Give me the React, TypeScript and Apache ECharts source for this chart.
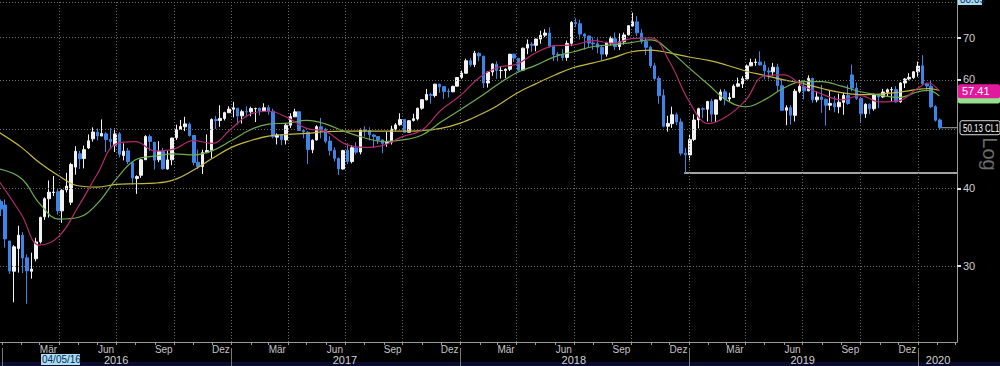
import React, { useEffect, useRef } from "react";
import * as echarts from "echarts";

// ---------- data ----------
// Weekly bars [open, close, low, high]; each list starts on the given Monday
const weekStart2016 = "2015-12-28";
const bars2016 = [
  [38.1, 37.04, 36.1, 38.4], [37.6, 33.16, 32.1, 38.4], [32.9, 29.42, 29.1, 32.9], [29.4, 32.19, 26.19, 32.4],
  [32.0, 33.62, 29.25, 34.82], [33.6, 30.89, 29.2, 34.0], [30.9, 29.44, 26.05, 31.3], [29.4, 29.64, 28.6, 31.5],
  [30.8, 32.78, 30.5, 33.3], [32.8, 35.92, 32.6, 36.0], [36.0, 38.5, 35.6, 38.7], [38.5, 39.44, 35.9, 41.2],
  [39.4, 39.46, 38.9, 41.9], [39.5, 36.79, 36.3, 39.9], [36.8, 39.72, 35.2, 39.9], [39.8, 40.36, 39.4, 42.4],
  [38.0, 43.73, 37.6, 44.0], [43.3, 45.92, 42.1, 46.8], [45.5, 44.66, 43.0, 46.0], [44.7, 46.21, 43.1, 46.9],
  [46.5, 47.75, 46.3, 48.9], [48.1, 49.33, 47.6, 50.2], [49.3, 48.62, 47.8, 50.0], [48.6, 49.07, 48.6, 51.7],
  [49.0, 47.98, 45.8, 49.3], [48.0, 47.64, 46.6, 50.1], [47.0, 48.99, 45.8, 50.0], [49.0, 45.41, 44.9, 49.3],
  [45.2, 45.95, 44.4, 47.3], [46.0, 44.19, 43.8, 46.5], [44.0, 41.6, 40.6, 44.2], [41.5, 41.8, 39.2, 42.0],
  [42.0, 44.49, 41.6, 44.6], [44.5, 48.52, 44.5, 48.75], [48.5, 47.64, 46.0, 48.9], [47.5, 44.44, 42.9, 47.5],
  [44.5, 45.88, 44.1, 47.7], [45.9, 43.03, 42.9, 46.5], [43.0, 44.48, 42.9, 46.0], [44.5, 48.24, 43.6, 48.3],
  [48.3, 49.81, 47.9, 50.7], [49.8, 50.35, 49.8, 51.6], [50.3, 50.85, 49.5, 52.2], [50.8, 48.7, 48.5, 51.1],
  [48.7, 44.07, 43.6, 48.8], [44.1, 43.41, 43.0, 46.2], [43.4, 45.69, 42.2, 46.2], [45.7, 46.06, 45.6, 48.9],
  [46.1, 51.68, 44.8, 51.9], [51.7, 51.5, 49.9, 52.4], [51.5, 51.9, 50.3, 54.5], [51.9, 53.02, 51.5, 53.2],
  [53.0, 53.72, 53.0, 54.3],
];
const weekStart2017 = "2017-01-02";
const bars2017 = [
  [53.7, 53.99, 52.1, 55.2], [53.9, 52.37, 50.7, 53.9], [52.4, 53.22, 50.9, 53.6], [53.2, 53.17, 52.1, 54.3],
  [53.2, 53.83, 52.3, 54.2], [53.8, 53.86, 51.2, 54.0], [53.9, 53.4, 52.5, 54.0], [53.4, 53.99, 53.2, 54.9],
  [54.0, 53.33, 52.6, 54.5], [53.3, 48.49, 48.2, 53.8], [48.4, 48.78, 47.1, 49.1], [48.8, 47.97, 47.0, 48.9],
  [47.9, 50.6, 47.1, 50.9], [50.6, 52.24, 50.1, 52.9], [52.2, 53.18, 52.2, 53.8], [53.2, 49.62, 49.6, 53.2],
  [49.6, 49.33, 48.2, 49.8], [49.3, 46.22, 43.8, 49.5], [46.2, 47.84, 45.6, 48.0], [47.9, 50.33, 47.8, 50.6],
  [50.3, 49.8, 48.2, 52.0], [49.8, 47.66, 47.3, 50.1], [47.7, 46.08, 45.2, 48.6], [46.1, 44.74, 44.2, 46.6],
  [44.7, 43.01, 42.05, 44.9], [43.0, 46.04, 42.9, 46.2], [46.1, 44.23, 43.8, 47.3], [44.2, 46.54, 43.9, 47.0],
  [46.5, 45.77, 45.4, 47.5], [45.8, 49.71, 45.4, 50.0], [49.7, 49.58, 48.5, 50.4], [49.6, 48.82, 47.8, 50.2],
  [48.8, 48.51, 46.5, 49.0], [48.5, 47.87, 47.2, 48.6], [47.9, 47.29, 45.6, 48.0], [47.3, 47.48, 46.7, 49.4],
  [47.5, 49.89, 47.1, 50.5], [49.9, 50.66, 49.6, 51.0], [50.7, 51.67, 50.5, 52.9], [51.7, 49.29, 49.2, 51.8],
  [49.3, 51.45, 49.3, 51.6], [51.5, 51.84, 51.3, 52.8], [51.8, 53.9, 51.5, 54.0], [53.9, 55.64, 53.6, 55.7],
  [55.6, 56.74, 55.5, 57.9], [56.7, 56.55, 54.8, 57.1], [56.5, 58.95, 56.1, 59.0], [58.9, 58.36, 57.1, 59.1],
  [58.4, 57.36, 55.8, 58.4], [57.4, 57.3, 56.1, 58.0], [57.3, 58.47, 57.2, 58.6], [58.5, 60.42, 58.5, 60.5],
];
const weekStart2018 = "2018-01-01";
const bars2018 = [
  [60.4, 61.44, 60.1, 62.0], [61.4, 64.3, 61.3, 64.8], [64.3, 63.37, 62.9, 64.9], [63.4, 66.14, 62.8, 66.7],
  [66.1, 65.45, 64.2, 66.4], [65.4, 59.2, 58.1, 65.5], [59.2, 61.68, 58.2, 61.8], [61.7, 63.55, 60.8, 63.7],
  [63.5, 62.04, 60.1, 64.2], [62.0, 62.04, 60.2, 63.0], [62.0, 62.34, 60.3, 62.5], [62.3, 65.88, 61.9, 66.0],
  [65.9, 64.94, 64.0, 66.0], [64.9, 62.06, 61.8, 64.9], [62.1, 67.39, 61.9, 67.5], [67.4, 68.38, 65.9, 69.6],
  [68.4, 68.1, 66.5, 68.9], [68.1, 69.72, 66.6, 69.8], [69.7, 70.7, 68.5, 71.9], [70.7, 71.28, 70.2, 72.3],
  [71.3, 67.88, 67.5, 72.8], [67.9, 65.81, 64.2, 67.9], [65.8, 65.74, 64.2, 66.4], [65.7, 65.06, 64.3, 67.1],
  [65.1, 68.58, 64.3, 69.3], [68.6, 74.15, 67.9, 74.5], [74.1, 73.8, 72.9, 75.3], [73.8, 71.01, 69.6, 74.9],
  [71.0, 70.46, 67.0, 71.2], [70.5, 68.69, 67.6, 70.6], [68.7, 68.49, 67.0, 70.2], [68.5, 67.63, 66.1, 69.9],
  [67.6, 65.91, 64.4, 67.9], [65.9, 68.72, 65.3, 69.0], [68.7, 69.8, 68.1, 70.4], [69.8, 67.75, 66.9, 71.4],
  [67.8, 68.99, 66.9, 71.2], [69.0, 70.78, 68.3, 71.4], [70.8, 73.25, 70.6, 73.4], [73.2, 74.34, 73.0, 76.9],
  [74.3, 71.34, 70.5, 75.9], [71.3, 69.12, 68.5, 72.3], [69.1, 67.59, 65.7, 70.0], [67.6, 63.14, 62.6, 68.0],
  [63.1, 60.19, 59.9, 63.8], [60.2, 56.46, 54.8, 60.7], [56.5, 50.42, 50.2, 57.8], [50.4, 50.93, 49.4, 52.4],
  [50.9, 52.61, 50.1, 54.2], [52.6, 51.2, 50.6, 53.0], [51.2, 45.59, 45.2, 51.9], [45.6, 45.33, 42.36, 46.5],
  [45.3, 47.96, 44.4, 48.8],
];
const weekStart2019 = "2019-01-07";
const bars2019 = [
  [48.0, 51.59, 47.7, 52.7], [51.6, 53.8, 50.0, 54.0], [53.8, 53.69, 51.9, 54.1], [53.7, 55.26, 51.3, 55.4],
  [55.3, 52.72, 51.2, 55.8], [52.7, 55.59, 51.2, 55.7], [55.6, 57.26, 55.4, 57.8], [57.3, 55.8, 54.5, 57.9],
  [55.8, 56.07, 55.3, 57.1], [56.1, 58.52, 56.0, 58.9], [58.5, 59.04, 58.3, 60.4], [59.0, 60.14, 58.1, 60.7],
  [60.1, 63.08, 60.0, 63.4], [63.1, 63.89, 63.0, 64.8], [63.9, 64.0, 63.1, 64.8], [64.0, 63.3, 63.2, 66.6],
  [63.3, 61.94, 60.0, 64.2], [61.9, 61.66, 60.0, 62.7], [61.7, 62.76, 60.8, 63.8], [62.8, 58.63, 57.3, 63.6],
  [58.6, 53.5, 53.4, 59.9], [53.5, 54.0, 50.6, 54.5], [54.0, 52.51, 50.7, 54.5], [52.5, 57.43, 51.3, 57.9],
  [57.4, 58.47, 57.0, 59.9], [58.5, 57.51, 55.7, 59.8], [57.5, 60.21, 57.4, 60.9], [60.2, 55.63, 55.0, 60.4],
  [55.6, 56.2, 55.1, 57.4], [56.2, 55.66, 53.0, 58.8], [55.7, 54.5, 50.5, 55.9], [54.5, 54.87, 53.5, 57.5],
  [54.9, 54.17, 53.1, 56.4], [54.2, 55.1, 52.9, 56.9], [55.1, 56.52, 52.6, 57.1], [56.5, 54.85, 54.6, 58.8],
  [61.0, 58.09, 57.4, 63.4], [58.1, 55.91, 55.6, 59.3], [55.9, 52.81, 50.99, 56.2], [52.8, 54.7, 52.0, 54.9],
  [54.7, 53.78, 52.7, 54.9], [53.8, 56.66, 53.4, 56.9], [56.7, 56.2, 53.9, 56.8], [56.2, 57.24, 56.0, 57.9],
  [57.2, 57.72, 56.4, 58.0], [57.7, 57.77, 55.2, 58.3], [57.8, 55.17, 55.0, 58.5], [55.2, 59.2, 55.0, 59.4],
  [59.2, 60.07, 58.1, 60.3], [60.1, 60.44, 59.8, 61.4], [60.4, 61.72, 60.1, 61.9], [61.7, 63.05, 60.6, 64.1],
];
const weekStart2020 = "2020-01-06";
const bars2020 = [
  [63.1, 59.04, 58.7, 65.65], [59.0, 58.54, 57.4, 59.3], [58.5, 54.19, 53.9, 59.7], [54.2, 51.56, 51.3, 54.5],
  [51.6, 50.13, 49.9, 51.9],
];

// Moving averages
const maDates = [
  "2015-12-28", "2016-02-01", "2016-03-01", "2016-04-01", "2016-05-01", "2016-06-01", "2016-07-01", "2016-08-01",
  "2016-09-01", "2016-10-01", "2016-11-01", "2016-12-01", "2017-01-01", "2017-02-01", "2017-03-01", "2017-04-01",
  "2017-05-01", "2017-06-01", "2017-07-01", "2017-08-01", "2017-09-01", "2017-10-01", "2017-11-01", "2017-12-01",
  "2018-01-01", "2018-02-01", "2018-03-01", "2018-04-01", "2018-05-01", "2018-06-01", "2018-07-01", "2018-08-01",
  "2018-09-01", "2018-10-01", "2018-11-01", "2018-12-01", "2019-01-01", "2019-02-01", "2019-03-01", "2019-04-01",
  "2019-05-01", "2019-06-01", "2019-07-01", "2019-08-01", "2019-09-01", "2019-10-01", "2019-11-01", "2019-12-01",
  "2020-01-01", "2020-01-18", "2020-02-04",
];
const ma50 = [
  41.0, 36.3, 32.4, 33.5, 37.3, 42.2, 47.2, 47.6, 46.0, 46.3, 47.8, 47.3, 50.0, 52.8, 53.3, 52.0,
  50.0, 49.4, 47.2, 46.6, 47.0, 48.5, 49.7, 53.5, 56.5, 60.5, 62.7, 63.5, 66.2, 68.0, 68.2, 69.3,
  68.6, 69.8, 70.0, 64.0, 55.3, 50.9, 52.2, 55.5, 60.8, 61.0, 58.6, 56.8, 55.6, 56.5, 55.2, 55.4,
  58.1, 59.2, 57.41,
];
const ma100 = [
  43.0, 41.5, 37.8, 35.7, 35.9, 37.8, 41.4, 44.5, 45.1, 45.5, 45.3, 46.0, 47.8, 49.8, 50.8, 51.0,
  51.5, 50.8, 49.4, 48.3, 47.6, 47.9, 48.8, 51.2, 53.6, 56.2, 58.8, 61.5, 63.2, 65.3, 66.5, 67.8,
  68.2, 68.8, 69.5, 66.7, 62.6, 58.8, 55.6, 54.2, 55.6, 58.1, 59.5, 59.5, 58.5, 57.3, 56.6, 56.1,
  57.3, 57.6, 56.4,
];
const ma200 = [
  49.2, 46.6, 44.0, 41.9, 40.4, 40.2, 40.6, 40.7, 40.8, 41.3, 42.8, 44.7, 46.6, 47.8, 48.6, 48.9,
  49.1, 49.4, 49.5, 49.5, 49.5, 49.5, 49.6, 50.0, 51.0, 52.6, 54.4, 57.0, 59.0, 61.0, 62.7, 63.8,
  65.0, 66.5, 66.9, 66.2, 65.2, 64.4, 63.3, 61.9, 60.9, 59.9, 59.1, 58.0, 57.1, 56.7, 56.8, 57.2,
  57.8, 58.0, 57.6,
];

// Levels and labels
const supportLow = 42.36;
const supportFrom = "2018-12-24";
const lastPrice = 50.13;
const lastDate = "2020-02-04";
const lastLabel = "50.13 CL1";
const ma50Label = "57.41";
const ma100Level = 56.3;
const priceTicks = [30, 40, 60, 70];
const priceGrid = [30, 40, 50, 60, 70, 80];
const monthLabelDates = [
  "2016-03-15", "2016-06-15", "2016-09-15", "2016-12-15", "2017-03-15", "2017-06-15", "2017-09-15", "2017-12-15",
  "2018-03-15", "2018-06-15", "2018-09-15", "2018-12-15", "2019-03-15", "2019-06-15", "2019-09-15", "2019-12-15",
];
const monthLabels = ["Mär", "Jun", "Sep", "Dez", "Mär", "Jun", "Sep", "Dez", "Mär", "Jun", "Sep", "Dez", "Mär", "Jun", "Sep", "Dez"];
const yearLabelDates = ["2016-07-01", "2017-07-01", "2018-07-01", "2019-07-01", "2020-02-02"];
const yearLabels = ["2016", "2017", "2018", "2019", "2020"];
const yearStarts = ["2016-01-01", "2017-01-01", "2018-01-01", "2019-01-01", "2020-01-01"];
const quarterStarts = [
  "2016-04-01", "2016-07-01", "2016-10-01", "2017-01-01", "2017-04-01", "2017-07-01", "2017-10-01",
  "2018-01-01", "2018-04-01", "2018-07-01", "2018-10-01", "2019-01-01", "2019-04-01", "2019-07-01",
  "2019-10-01", "2020-01-01",
];
const axisStart = "2015-12-28T19:00:00Z";
const axisEnd = "2020-03-03T05:00:00Z";
const priceMin = 22.6;
const priceMax = 80.6;
const topClipLabel = "80.09";
const cornerDate = "04/05/16";

// ---------- helpers ----------
const DAY = 86400000;
const ts = (s: string) => Date.parse(s.length <= 10 ? s + "T00:00:00Z" : s);
const ln = Math.log;
const FONT = "'Liberation Sans', Arial, sans-serif";

function weeks(start: string, bars: number[][]) {
  const t0 = ts(start);
  return bars.map((b, i) => [t0 + (i * 7 + 2) * DAY, ln(b[0]), ln(b[1]), ln(b[2]), ln(b[3])]);
}

export default function App() {
  const ref = useRef<HTMLDivElement>(null);
  useEffect(() => {
    document.body.style.margin = "0";
    document.body.style.background = "#000";
    const chart = echarts.init(ref.current!, null, { renderer: "svg" });

    const candles = [
      ...weeks(weekStart2016, bars2016),
      ...weeks(weekStart2017, bars2017),
      ...weeks(weekStart2018, bars2018),
      ...weeks(weekStart2019, bars2019),
      ...weeks(weekStart2020, bars2020),
    ];
    const xMin = ts(axisStart);
    const xMax = ts(axisEnd);
    const maSeries = (vals: number[]) => maDates.map((d, i) => [ts(d), ln(vals[i])]);
    const monthMap = new Map(monthLabelDates.map((d, i) => [ts(d), monthLabels[i]]));
    const yearMap = new Map(yearLabelDates.map((d, i) => [ts(d), yearLabels[i]]));
    const monthStarts: number[] = [];
    for (let y = 2016; y <= 2020; y++) {
      for (let m = 0; m < 12; m++) {
        const t = Date.UTC(y, m, 1);
        if (t > xMin && t < xMax) monthStarts.push(t);
      }
    }

    const gridLine = { color: "#6a6a6a", width: 1, type: [1, 2] as any };
    const baseX = { type: "value", min: xMin, max: xMax, position: "bottom", scale: true, splitLine: { show: false } };

    const option: any = {
      animation: false,
      backgroundColor: "#000",
      grid: { left: 0, top: 0, right: 43, bottom: 24, containLabel: false },
      xAxis: [
        {
          ...baseX,
          axisLine: { show: true, onZero: false, lineStyle: { color: "#9a9a9a", width: 1 } },
          axisTick: { show: true, customValues: monthStarts, length: 3, lineStyle: { color: "#9a9a9a" } },
          axisLabel: {
            show: true,
            customValues: monthLabelDates.map(ts),
            formatter: (v: number) => monthMap.get(v) ?? "",
            color: "#c4c4c4",
            fontSize: 10,
            fontFamily: FONT,
            margin: 2,
          },
        },
        {
          ...baseX,
          offset: 6,
          axisLine: { show: false, onZero: false },
          axisTick: { show: true, customValues: yearStarts.map(ts), length: 18, lineStyle: { color: "#777" } },
          axisLabel: { show: false },
        },
        {
          ...baseX,
          offset: 0,
          axisLine: { show: false, onZero: false },
          axisTick: { show: false },
          axisLabel: {
            show: true,
            customValues: yearLabelDates.map(ts),
            formatter: (v: number) => yearMap.get(v) ?? "",
            color: "#d0d0d0",
            fontSize: 11,
            fontFamily: FONT,
            margin: 12,
          },
        },
      ],
      yAxis: {
        type: "value",
        position: "right",
        scale: true,
        min: ln(priceMin),
        max: ln(priceMax),
        axisLine: { show: true, onZero: false, lineStyle: { color: "#9a9a9a", width: 1 } },
        axisTick: { show: true, customValues: priceTicks.map(ln), length: 4, lineStyle: { color: "#e0e0e0", width: 2 } },
        axisLabel: {
          show: true,
          customValues: priceTicks.map(ln),
          formatter: (v: number) => String(Math.round(Math.exp(v))),
          color: "#cfcfcf",
          fontSize: 11,
          fontFamily: FONT,
          margin: 6,
        },
        splitLine: { show: false },
      },
      series: [
        {
          name: "grid",
          type: "line",
          data: [[xMin, ln(50)]],
          symbol: "none",
          lineStyle: { opacity: 0 },
          silent: true,
          z: 1,
          markLine: {
            silent: true,
            symbol: "none",
            animation: false,
            label: { show: false },
            lineStyle: gridLine,
            data: [
              ...priceGrid.map((p) => ({ yAxis: ln(p) })),
              ...quarterStarts.map((d) => ({ xAxis: ts(d) })),
            ],
          },
        },
        {
          name: "support",
          type: "line",
          data: [[ts(supportFrom), ln(supportLow)], [xMax, ln(supportLow)]],
          symbol: "none",
          lineStyle: { color: "#d8d8d8", width: 1.5 },
          silent: true,
          z: 2,
        },
        {
          name: "last",
          type: "line",
          data: [[ts(lastDate), ln(lastPrice)], [xMax, ln(lastPrice)]],
          symbol: "none",
          lineStyle: { color: "#a8a8a8", width: 1 },
          silent: true,
          z: 2,
        },
        {
          name: "CL1",
          type: "candlestick",
          data: candles,
          encode: { x: 0, y: [1, 2, 3, 4] },
          barWidth: 3,
          itemStyle: {
            color: "#f2f2f2",
            color0: "#3d86e8",
            borderColor: "#f2f2f2",
            borderColor0: "#3d86e8",
            borderWidth: 1,
          },
          z: 3,
        },
        {
          name: "MA200",
          type: "line",
          data: maSeries(ma200),
          smooth: 0.4,
          symbol: "none",
          lineStyle: { color: "#c2b844", width: 1.2 },
          z: 4,
        },
        {
          name: "MA100",
          type: "line",
          data: maSeries(ma100),
          smooth: 0.4,
          symbol: "none",
          lineStyle: { color: "#6fae50", width: 1.2 },
          z: 4,
        },
        {
          name: "MA50",
          type: "line",
          data: maSeries(ma50),
          smooth: 0.4,
          symbol: "none",
          lineStyle: { color: "#b02a6c", width: 1.2 },
          z: 5,
        },
      ],
    };

    chart.setOption(option);

    // price tags on the right, positioned through the y axis scale
    const yPix = (p: number) => chart.convertToPixel({ yAxisIndex: 0 }, ln(p)) as number;
    const yGreen = yPix(ma100Level);
    const yMag = yPix(Number(ma50Label));
    const yLast = yPix(lastPrice);

    chart.setOption({
      graphic: [
        { type: "rect", shape: { x: 0, y: 362, width: 1000, height: 4 }, style: { fill: "#0b0b30" }, silent: true },
        {
          type: "text", x: 990, y: 154, rotation: -Math.PI / 2, silent: true,
          style: { text: "Log", fill: "#6c6c6c", font: `20px ${FONT}`, textAlign: "center", textVerticalAlign: "middle" },
        },
        { type: "rect", shape: { x: 958, y: -8, width: 24, height: 13 }, style: { fill: "#a9dcee" }, silent: true },
        {
          type: "text", x: 960, y: -6, silent: true,
          style: { text: topClipLabel, fill: "#0a2a60", font: `10px ${FONT}`, textVerticalAlign: "top" },
        },
        { type: "rect", shape: { x: 41, y: 354, width: 39, height: 11 }, style: { fill: "#a9dcee" }, silent: true },
        {
          type: "text", x: 42, y: 359.5, silent: true,
          style: { text: cornerDate, fill: "#0a2a60", font: `10px ${FONT}`, textVerticalAlign: "middle" },
        },
        // green MA100 tag (hidden under the magenta one)
        { type: "rect", shape: { x: 958, y: yGreen - 6, width: 42, height: 13, r: 2 }, style: { fill: "#94e08c" }, silent: true },
        // magenta MA50 tag
        { type: "rect", shape: { x: 958, y: yMag - 7, width: 42, height: 14, r: 2 }, style: { fill: "#e2199c" }, silent: true },
        {
          type: "text", x: 962, y: yMag, silent: true,
          style: { text: ma50Label, fill: "#ffffff", font: `11px ${FONT}`, textVerticalAlign: "middle" },
        },
        // last price tag
        {
          type: "rect", shape: { x: 960, y: yLast - 7, width: 40, height: 14, r: 2 }, silent: true,
          style: { fill: "#000", stroke: "#d8d8d8", lineWidth: 1 },
        },
        {
          type: "text", x: 963, y: yLast, scaleX: 0.72, silent: true,
          style: { text: lastLabel, fill: "#ffffff", font: `11px ${FONT}`, textVerticalAlign: "middle" },
        },
      ],
    });

    return () => chart.dispose();
  }, []);

  return <div ref={ref} style={{ position: "absolute", left: 0, top: 0, width: 1000, height: 366 }} />;
}
